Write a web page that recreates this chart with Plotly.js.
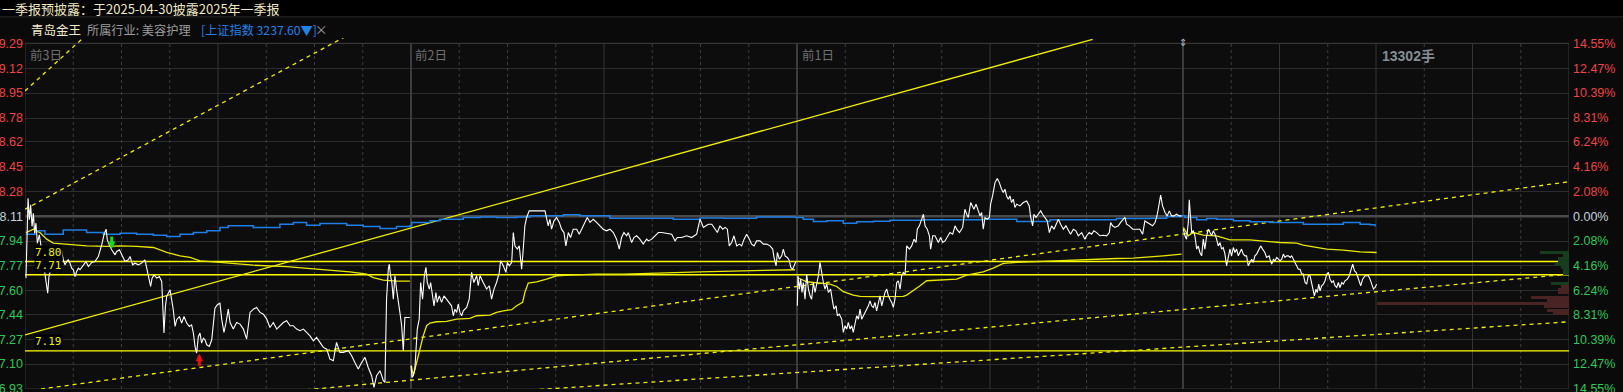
<!DOCTYPE html>
<html><head><meta charset="utf-8">
<script src="https://cdn.plot.ly/plotly-3.0.1.min.js"></script>
<style>html,body{margin:0;padding:0;background:#0a0a0a;overflow:hidden}#chart{width:1623px;height:392px}</style>
</head><body><div id="chart"></div>
<script>
// ---------------- DATA ----------------
const prevClose = 8.11;
const yTicks = [6.93,7.10,7.27,7.44,7.60,7.77,7.94,8.11,8.28,8.45,8.62,8.78,8.95,9.12,9.29];
const pctTicks = ['14.55%','12.47%','10.39%','8.31%','6.24%','4.16%','2.08%','0.00%','2.08%','4.16%','6.24%','8.31%','10.39%','12.47%','14.55%'];
const dayLabels = ['前3日','前2日','前1日'];
const dayStarts = [0,240,480,720];       // minute index where each session begins
const headerLine1 = '一季报预披露：于2025-04-30披露2025年一季报';
const stockName = '青岛金王';
const industry = '所属行业: 美容护理';
const indexTag = '[上证指数 3237.60▼]';
const maxVolLabel = '13302手';

// price line, [minute, price] per session
const day1 = [[0.6,7.687],[1.0,7.835],[1.9,8.232],[2.7,8.085],[3.5,8.187],[4.4,8.039],[5.2,8.130],[6.0,7.994],[6.8,8.062],[7.7,7.925],[8.9,7.982],[9.7,7.925],[11.4,7.789],[12.4,7.732],[13.5,7.630],[14.1,7.584],[14.9,7.698],[15.5,7.721],[16.6,7.778],[17.6,7.744],[18.7,7.755],[19.7,7.732],[20.7,7.744],[21.8,7.789],[22.8,7.869],[23.8,7.812],[24.9,7.778],[25.9,7.800],[26.9,7.812],[28.0,7.789],[29.0,7.755],[30.1,7.744],[31.1,7.698],[32.1,7.732],[33.2,7.755],[34.2,7.744],[36.3,7.778],[37.9,7.800],[39.4,7.766],[41.5,7.794],[43.5,7.800],[45.6,7.835],[47.7,7.914],[49.1,7.982],[50.4,8.021],[51.2,7.948],[52.4,7.914],[53.9,7.880],[56.0,7.846],[57.0,7.869],[58.7,7.880],[60.1,7.846],[62.2,7.800],[64.2,7.812],[65.3,7.835],[66.9,7.778],[68.4,7.789],[70.5,7.778],[72.5,7.789],[74.6,7.812],[76.1,7.732],[77.3,7.675],[78.1,7.630],[79.0,7.687],[80.2,7.709],[81.9,7.687],[83.5,7.698],[85.0,7.664],[85.6,7.539],[86.4,7.312],[87.3,7.494],[88.1,7.562],[89.1,7.584],[90.2,7.607],[91.2,7.539],[92.2,7.471],[93.3,7.357],[94.3,7.403],[96.0,7.425],[97.4,7.380],[98.9,7.425],[100.5,7.380],[102.2,7.357],[103.6,7.368],[104.7,7.312],[105.7,7.221],[106.7,7.175],[107.8,7.289],[108.8,7.312],[109.8,7.243],[110.9,7.277],[111.9,7.266],[113.0,7.232],[114.6,7.221],[116.1,7.266],[117.1,7.403],[118.1,7.482],[119.6,7.505],[121.2,7.516],[122.3,7.407],[123.7,7.316],[125.0,7.384],[126.4,7.475],[127.5,7.384],[129.5,7.339],[131.6,7.384],[133.7,7.373],[135.8,7.339],[137.8,7.271],[139.9,7.453],[142.0,7.475],[144.0,7.487],[146.1,7.453],[148.2,7.441],[150.3,7.407],[152.3,7.350],[154.4,7.384],[156.5,7.339],[158.5,7.362],[160.6,7.384],[162.7,7.396],[164.8,7.362],[166.8,7.362],[168.9,7.339],[171.0,7.328],[173.1,7.339],[175.1,7.316],[177.2,7.293],[179.3,7.259],[181.3,7.282],[183.4,7.248],[185.5,7.214],[187.6,7.202],[189.6,7.134],[191.7,7.123],[193.7,7.248],[195.8,7.180],[197.9,7.180],[201.0,7.191],[203.1,7.157],[205.1,7.111],[207.2,7.066],[209.3,7.111],[211.4,7.146],[213.4,7.077],[215.5,7.021],[217.0,6.941],[218.6,7.021],[220.7,7.055],[222.8,6.987],[223.8,6.975],[224.8,7.543],[225.9,7.748],[226.5,7.782],[227.3,7.703],[228.1,7.657],[229.0,7.543],[230.0,7.703],[231.0,7.612],[232.1,7.543],[233.1,7.453],[234.2,7.362],[235.2,7.191],[236.2,7.418],[239.3,7.418]];
const day2 = [[240.0,7.089],[240.6,7.009],[241.4,7.021],[242.4,7.066],[243.9,7.339],[245.1,7.407],[246.0,7.657],[247.2,7.543],[248.3,7.703],[249.3,7.760],[250.1,7.657],[251.4,7.612],[252.2,7.657],[253.4,7.543],[254.3,7.498],[255.5,7.589],[256.3,7.521],[257.6,7.566],[259.0,7.521],[260.5,7.566],[262.1,7.543],[263.8,7.521],[265.2,7.498],[266.3,7.430],[267.3,7.475],[268.4,7.453],[269.4,7.509],[270.4,7.453],[271.5,7.430],[272.5,7.464],[274.6,7.487],[276.2,7.543],[277.7,7.726],[279.1,7.657],[280.8,7.703],[281.8,7.635],[282.9,7.703],[284.9,7.657],[287.0,7.612],[288.7,7.635],[290.1,7.543],[291.6,7.612],[293.2,7.657],[294.9,7.726],[295.7,7.805],[297.4,7.771],[299.0,7.726],[299.9,7.794],[301.1,7.771],[302.6,7.794],[303.6,7.998],[304.6,7.907],[306.1,7.885],[307.3,7.907],[308.8,7.748],[309.8,7.885],[310.8,8.044],[311.9,8.101],[313.5,8.146],[323.3,8.146],[324.3,8.101],[325.3,8.044],[326.4,8.089],[327.4,8.021],[328.9,8.078],[330.5,8.101],[332.2,8.067],[333.6,8.021],[335.1,7.998],[336.3,7.907],[337.8,7.998],[339.2,7.964],[340.9,8.021],[343.0,8.021],[344.6,7.987],[346.1,8.021],[348.1,8.078],[349.6,8.101],[351.3,8.067],[353.3,8.089],[355.4,8.067],[357.5,8.044],[359.5,8.021],[361.6,8.010],[363.7,8.021],[365.8,7.998],[367.8,7.953],[369.5,7.885],[370.9,7.964],[372.4,7.998],[374.1,7.976],[375.1,7.998],[377.2,7.930],[378.6,7.964],[380.3,7.976],[382.3,7.953],[384.4,7.919],[386.5,7.953],[387.6,7.941],[389.7,7.953],[391.7,7.976],[393.8,7.998],[395.9,7.998],[399.0,7.994],[402.1,7.987],[404.2,7.941],[405.6,7.964],[408.3,7.964],[411.4,7.976],[414.5,7.964],[417.6,7.987],[419.7,8.089],[421.8,8.033],[423.4,8.044],[424.9,8.055],[427.0,8.055],[429.0,8.021],[430.5,7.998],[432.1,8.044],[433.8,8.021],[435.3,8.033],[436.7,8.021],[437.9,7.907],[439.4,7.930],[440.8,7.976],[442.5,7.907],[444.2,7.919],[445.6,7.907],[447.1,7.953],[448.7,7.987],[450.4,7.953],[451.8,7.919],[453.3,7.907],[454.9,7.941],[457.0,7.941],[459.1,7.919],[461.2,7.919],[463.2,7.907],[464.9,7.885],[465.7,7.828],[467.0,7.771],[467.8,7.862],[469.0,7.816],[470.5,7.839],[471.5,7.885],[472.6,7.839],[474.0,7.828],[475.3,7.805],[476.1,7.760],[477.3,7.748],[478.2,7.771],[479.4,7.805]];
const day3 = [[480.2,7.498],[480.6,7.703],[481.5,7.612],[482.3,7.680],[483.1,7.589],[483.9,7.657],[485.0,7.543],[486.0,7.714],[487.1,7.612],[488.1,7.566],[489.1,7.543],[490.2,7.657],[491.2,7.589],[492.2,7.646],[493.3,7.703],[494.3,7.794],[495.4,7.703],[496.4,7.657],[497.4,7.612],[498.5,7.646],[499.5,7.589],[500.9,7.612],[502.2,7.521],[503.0,7.475],[504.3,7.498],[505.1,7.430],[506.3,7.441],[507.8,7.407],[508.8,7.316],[509.9,7.362],[510.9,7.339],[511.9,7.384],[513.0,7.339],[514.0,7.362],[515.0,7.316],[516.1,7.384],[517.1,7.430],[518.2,7.407],[519.2,7.475],[520.2,7.407],[521.3,7.430],[522.3,7.453],[523.3,7.475],[524.4,7.498],[525.4,7.532],[526.4,7.498],[527.5,7.487],[528.5,7.521],[529.5,7.464],[530.6,7.521],[531.6,7.566],[532.7,7.498],[533.7,7.543],[534.7,7.589],[535.8,7.612],[536.8,7.566],[537.8,7.543],[538.9,7.521],[539.9,7.487],[540.9,7.543],[542.0,7.657],[543.0,7.669],[544.1,7.612],[545.1,7.703],[546.1,7.726],[547.2,7.714],[548.2,7.907],[549.9,7.885],[551.3,7.907],[552.8,7.953],[554.0,7.930],[554.8,8.021],[556.1,8.044],[557.5,8.089],[558.6,8.123],[559.6,8.044],[561.0,8.021],[562.3,7.976],[563.1,7.885],[564.4,7.976],[565.8,7.976],[566.9,7.953],[567.9,7.930],[569.3,7.964],[570.6,7.930],[572.0,7.941],[573.1,7.964],[574.1,7.976],[575.1,7.998],[576.8,7.987],[578.3,8.044],[579.3,8.021],[581.0,7.998],[583.0,8.033],[584.4,8.157],[585.5,8.123],[586.5,8.101],[588.0,8.203],[589.2,8.180],[590.0,8.157],[591.3,8.192],[592.7,8.146],[593.8,8.112],[594.8,8.135],[595.8,8.021],[596.9,8.101],[598.3,8.089],[599.6,8.101],[600.4,8.192],[601.6,8.248],[603.1,8.339],[604.5,8.367],[605.8,8.339],[607.2,8.294],[608.3,8.271],[609.3,8.294],[610.3,8.248],[611.4,8.226],[612.4,8.248],[613.4,8.203],[614.5,8.226],[615.5,8.169],[616.6,8.192],[618.6,8.180],[620.7,8.203],[622.8,8.214],[624.4,8.180],[625.3,8.101],[626.5,8.044],[627.3,8.123],[628.6,8.101],[630.0,8.123],[631.5,8.146],[632.7,8.123],[634.2,8.101],[635.6,8.078],[636.9,7.998],[638.3,8.044],[639.8,8.021],[641.0,8.055],[642.5,8.089],[643.9,8.055],[645.6,8.021],[647.2,8.044],[648.7,8.010],[650.1,7.987],[651.8,8.021],[653.4,8.010],[654.9,7.976],[657.0,7.998],[659.0,7.953],[660.1,7.976],[661.7,7.998],[663.2,7.987],[664.6,8.010],[666.3,7.998],[668.4,7.976],[670.4,7.980],[672.5,7.976],[674.2,7.998],[675.0,8.067],[676.2,8.044],[677.7,8.033],[679.8,8.044],[681.2,8.067],[682.9,8.089],[683.9,8.101],[684.9,8.055],[686.6,8.044],[688.7,8.021],[691.6,8.021],[693.2,8.021],[694.9,7.987],[696.3,8.078],[697.8,8.067],[699.5,8.055],[701.1,8.044],[702.6,8.067],[703.6,8.101],[704.6,8.157],[706.1,8.253],[707.3,8.180],[708.8,8.135],[710.2,8.112],[711.5,8.146],[712.9,8.112],[714.4,8.112],[716.0,8.123],[717.7,8.112],[719.1,8.112]];
const day4 = [[720.2,8.021],[721.2,7.976],[722.2,7.953],[723.3,8.067],[723.9,8.221],[724.7,8.112],[725.4,7.998],[726.4,8.010],[727.4,7.976],[728.5,7.885],[729.5,7.907],[730.5,7.862],[731.6,7.839],[732.6,7.953],[733.6,7.885],[734.7,7.976],[735.7,8.021],[736.8,7.998],[737.8,7.976],[738.8,8.010],[739.9,7.987],[740.9,7.953],[741.9,7.907],[743.0,7.930],[744.0,7.885],[745.0,7.896],[746.1,7.851],[747.1,7.771],[748.2,7.839],[749.2,7.885],[750.2,7.839],[751.3,7.896],[752.3,7.862],[753.3,7.885],[754.4,7.839],[755.4,7.862],[756.4,7.885],[757.5,7.851],[758.5,7.839],[759.5,7.839],[760.6,7.771],[761.6,7.794],[762.7,7.816],[763.7,7.794],[764.7,7.839],[765.8,7.851],[766.8,7.873],[768.3,7.907],[769.5,7.885],[770.9,7.862],[772.0,7.828],[773.6,7.839],[774.1,7.816],[775.2,7.782],[776.2,7.816],[777.2,7.805],[778.3,7.828],[779.3,7.816],[780.3,7.805],[781.4,7.816],[782.4,7.851],[783.4,7.828],[784.5,7.839],[785.5,7.839],[786.6,7.828],[787.6,7.839],[788.6,7.816],[789.7,7.794],[790.7,7.771],[791.7,7.748],[792.8,7.748],[793.8,7.714],[794.8,7.714],[795.9,7.657],[796.9,7.646],[797.9,7.703],[799.0,7.703],[800.0,7.657],[801.1,7.600],[801.7,7.566],[802.7,7.612],[803.5,7.589],[804.4,7.646],[805.2,7.600],[806.2,7.635],[807.3,7.646],[808.3,7.669],[809.4,7.714],[810.4,7.726],[811.4,7.680],[812.5,7.657],[813.5,7.669],[814.5,7.635],[815.6,7.623],[816.6,7.657],[817.6,7.623],[818.7,7.657],[819.7,7.646],[820.7,7.669],[822.2,7.680],[823.4,7.703],[824.3,7.737],[825.5,7.782],[826.6,7.737],[827.6,7.726],[828.4,7.703],[829.7,7.657],[830.5,7.635],[831.7,7.680],[833.2,7.703],[834.2,7.703],[835.3,7.703],[836.3,7.680],[837.3,7.646],[838.4,7.612],[839.4,7.623],[840.4,7.646]];

// average price line per session
const avg1 = [[0.6,7.998],[5.2,8.021],[9.3,7.998],[13.5,7.953],[17.6,7.926],[25.9,7.919],[38.3,7.907],[50.8,7.903],[59.1,7.907],[69.4,7.903],[79.8,7.896],[88.1,7.862],[96.4,7.839],[102.6,7.828],[108.8,7.805],[121.2,7.794],[142.0,7.775],[162.7,7.766],[183.4,7.748],[202.0,7.730],[212.4,7.714],[216.5,7.691],[222.8,7.673],[231.0,7.666],[239.3,7.666]];
const avg2 = [[240.2,7.089],[241.4,7.021],[243.5,7.111],[245.6,7.214],[247.6,7.293],[249.7,7.362],[251.8,7.380],[255.9,7.389],[262.1,7.391],[268.4,7.407],[276.6,7.412],[280.8,7.430],[289.1,7.434],[293.2,7.453],[297.4,7.464],[302.6,7.471],[305.7,7.498],[309.4,7.521],[310.8,7.589],[312.9,7.653],[318.1,7.662],[324.3,7.680],[330.5,7.703],[338.8,7.707],[355.4,7.714],[372.0,7.714],[403.1,7.726],[419.7,7.730],[440.0,7.735],[469.4,7.741],[478.8,7.744]];
const avg3 = [[480.2,7.691],[486.0,7.662],[494.3,7.653],[500.5,7.646],[504.7,7.630],[508.8,7.594],[515.0,7.571],[519.2,7.562],[527.5,7.560],[537.8,7.560],[546.1,7.562],[548.2,7.571],[552.3,7.600],[556.5,7.635],[560.6,7.669],[568.9,7.673],[579.3,7.680],[585.5,7.707],[595.8,7.730],[602.0,7.755],[608.3,7.787],[616.6,7.794],[629.0,7.800],[641.4,7.803],[658.0,7.809],[668.4,7.816],[678.7,7.821],[689.1,7.823],[699.5,7.830],[707.7,7.839],[719.1,7.851]];
const avg4 = [[720.2,8.033],[723.3,7.976],[726.4,7.998],[732.6,7.980],[740.9,7.976],[745.0,7.964],[749.2,7.948],[761.6,7.948],[774.1,7.935],[780.3,7.930],[790.7,7.926],[794.8,7.912],[801.1,7.900],[809.4,7.885],[819.7,7.878],[830.1,7.866],[840.4,7.862]];

// overlaid index (scaled to price)
const indexLine = [[0.6,7.987],[6.2,8.010],[12.4,7.987],[23.8,8.016],[38.3,7.998],[48.7,7.987],[59.1,7.994],[69.4,7.987],[79.8,7.980],[88.1,7.971],[96.4,7.987],[104.7,7.998],[113.0,8.010],[121.2,8.033],[126.4,8.044],[142.0,8.033],[158.5,8.055],[166.8,8.067],[175.1,8.048],[183.4,8.060],[200.0,8.048],[210.3,8.039],[220.7,8.025],[231.0,8.039],[239.3,8.044],[240.4,8.067],[251.8,8.078],[258.0,8.089],[272.5,8.101],[282.9,8.105],[293.2,8.101],[305.7,8.105],[314.0,8.112],[324.3,8.112],[334.7,8.119],[345.0,8.112],[355.4,8.112],[363.7,8.096],[376.1,8.096],[403.1,8.089],[419.7,8.098],[434.2,8.096],[454.9,8.105],[479.4,8.101],[483.9,8.089],[490.2,8.073],[498.5,8.078],[508.8,8.062],[517.1,8.071],[527.5,8.075],[537.8,8.082],[558.6,8.085],[579.3,8.085],[595.8,8.089],[616.6,8.073],[637.3,8.085],[658.0,8.085],[678.7,8.094],[699.5,8.096],[709.8,8.107],[719.1,8.112],[721.2,8.101],[728.5,8.085],[734.7,8.094],[740.9,8.089],[751.3,8.078],[761.6,8.071],[774.1,8.067],[794.8,8.055],[809.4,8.055],[819.7,8.067],[830.1,8.055],[836.3,8.051],[839.4,8.039]];

// horizontal price levels
const levelPrices = [7.80, 7.71, 7.19];

// trend lines: [startMinute, startPrice, endMinute, endPrice]
const solidTrend = [[0, 7.30, 663.8, 9.317]];
const dashedTrends = [[0, 8.965, 40, 9.365],[0, 8.157, 200, 9.341],[0, 6.915, 960, 8.345],[170, 6.92, 960, 7.714],[320, 6.927, 960, 7.389]];

// buy / sell signals
const signalT = [53.9, 108.4];
const signalP = [7.885, 7.171];
const signalSide = ['sell', 'buy'];

// volume-by-price profile (current session)
const pvPrice = [7.86,7.84,7.82,7.80,7.78,7.76,7.74,7.72,7.65,7.63,7.61,7.59,7.555,7.533,7.512,7.491,7.469,7.448];
const pvVol   = [2007,415,761,761,969,554,415,415,1246,554,761,761,2630,1522,13302,1730,1522,1107];
const pvSide  = ['b','b','b','b','b','b','b','b','b','s','s','s','s','s','s','s','s','s'];

// ---------------- LAYOUT HELPERS ----------------
const W = 1623, H = 392, PL = 25, PR = 1569, PT = 38, PB = 389;
const PW = PR - PL, PH = PB - PT;
const px = x => (x - PL) / PW;
const py = y => 1 - (y - PT) / PH;
const yLow = 6.93, yHigh = 9.29;
const pxPerUnit = (PB - 43.3) / (yHigh - yLow);
const yTop = yHigh + (43.3 - PT) / pxPerUnit;
const xMax = 960;

const RED = '#ec4646', GREEN = '#30c85a', NEUTRAL = '#c6d0da';
const colFor = v => Math.abs(v - prevClose) < 0.005 ? NEUTRAL : (v > prevClose ? RED : GREEN);

function series(arrs) {
  const x = [], y = [];
  arrs.forEach((a, i) => {
    if (i > 0) { x.push(null); y.push(null); }
    a.forEach(p => { x.push(p[0]); y.push(p[1]); });
  });
  return {x, y};
}

const traces = [];
// volume profile
traces.push({
  type: 'bar', orientation: 'h', x: pvVol, y: pvPrice, xaxis: 'x2', yaxis: 'y2',
  width: 0.021, marker: {color: pvSide.map(s => s === 'b' ? '#173c20' : '#4a2424'), line: {width: 0}},
  hoverinfo: 'skip'
});
// horizontal levels
levelPrices.forEach(v => traces.push({
  type: 'scatter', mode: 'lines', x: [0, xMax], y: [v, v],
  line: {color: '#ffff00', width: 1.4}, hoverinfo: 'skip'
}));
// trend lines
solidTrend.forEach(t => traces.push({
  type: 'scatter', mode: 'lines', x: [t[0], t[2]], y: [t[1], t[3]],
  line: {color: '#f0f000', width: 1.3}, hoverinfo: 'skip'
}));
dashedTrends.forEach(t => traces.push({
  type: 'scatter', mode: 'lines', x: [t[0], t[2]], y: [t[1], t[3]],
  line: {color: '#f0f000', width: 1.3, dash: '4px,4px'}, hoverinfo: 'skip'
}));
// average line
const av = series([avg1, avg2, avg3, avg4]);
traces.push({type: 'scatter', mode: 'lines', x: av.x, y: av.y, connectgaps: false,
  line: {color: '#e8e800', width: 1.3}, hoverinfo: 'skip'});
// index line
const ix = series([indexLine]);
traces.push({type: 'scatter', mode: 'lines', x: ix.x, y: ix.y,
  line: {color: '#1f7fe6', width: 1.5, shape: 'hv'}, hoverinfo: 'skip'});
// price line
const pr = series([day1, day2, day3, day4]);
traces.push({type: 'scatter', mode: 'lines', x: pr.x, y: pr.y, connectgaps: false,
  line: {color: '#ffffff', width: 1.1}, hoverinfo: 'skip'});

// ---------------- SHAPES ----------------
const shapes = [];
shapes.push({type: 'rect', xref: 'paper', yref: 'paper', x0: px(0), x1: px(W), y0: py(16.5), y1: py(0),
  fillcolor: '#000000', line: {width: 0}, layer: 'below'});
shapes.push({type: 'line', xref: 'paper', yref: 'paper', x0: px(0), x1: px(W), y0: py(16.8), y1: py(16.8),
  line: {color: '#262626', width: 1}});
shapes.push({type: 'rect', xref: 'paper', yref: 'y', x0: 0, x1: 1, y0: yHigh, y1: yTop,
  fillcolor: '#0a0a0a', line: {width: 0}, layer: 'between'});
// vertical time grid: every 30 min; solid at mid-session of past days and every hour today
for (let m = 30; m < xMax; m += 30) {
  if (dayStarts.includes(m)) continue;
  const today = m > dayStarts[3];
  const solid = today ? (m - dayStarts[3]) % 60 === 0 : (m % 240) === 120;
  shapes.push({type: 'line', xref: 'x', yref: 'y', x0: m, x1: m, y0: yLow, y1: yHigh, layer: 'between',
    line: solid ? {color: '#343434', width: 1} : {color: '#3e3e3e', width: 1, dash: 'dot'}});
}
shapes.push({type: 'line', xref: 'x', yref: 'y', x0: 0, x1: xMax, y0: prevClose, y1: prevClose,
  line: {color: '#4a4a4a', width: 2.5}, layer: 'between'});
dayStarts.slice(1).forEach(d => shapes.push({type: 'line', xref: 'x', yref: 'y', x0: d, x1: d, y0: yLow, y1: yHigh,
  line: {color: '#3c3c3c', width: 2}, layer: 'between'}));
shapes.push({type: 'rect', xref: 'x', yref: 'y', x0: 0, x1: xMax, y0: yLow, y1: yHigh,
  line: {color: '#3a3a3a', width: 1}, fillcolor: 'rgba(0,0,0,0)', layer: 'between'});

// ---------------- ANNOTATIONS ----------------
const cjk = '"Noto Sans CJK SC", "Noto Sans", sans-serif';
const ann = [];
const txt = (text, x, y, color, size, extra) => ann.push(Object.assign({
  text, xref: 'paper', yref: 'paper', x: px(x), y: py(y), xanchor: 'left', yanchor: 'middle',
  showarrow: false, font: {family: cjk, size, color}
}, extra || {}));
txt(headerLine1, 0, 8.5, '#efe8c4', 13);
txt(stockName, 29, 30, '#f2eccc', 12.5);
txt(industry, 85, 30, '#9c9c9c', 12.2);
txt(indexTag, 199, 30, '#2283e6', 12.2);
txt('×', 313, 30, '#9c9c9c', 12.5);
const dayLabelX = [28, 413, 800];
dayLabels.forEach((l, i) => txt(l, dayLabelX[i], 54, '#707070', 12.5));
txt(maxVolLabel, 1380, 56, '#8a9099', 13, {font: {family: 'Arial, "Noto Sans CJK SC"', size: 14, color: '#878d95', weight: 'bold'}});
ann.push({text: '⇕', xref: 'x', yref: 'paper', x: dayStarts[3], y: py(43), xanchor: 'center', yanchor: 'middle',
  showarrow: false, font: {family: 'DejaVu Sans', size: 10, color: '#b8b8b8'}});
levelPrices.forEach(v => ann.push({
  text: v.toFixed(2), xref: 'paper', yref: 'y', x: px(34), y: v, xanchor: 'left', yanchor: 'bottom', yshift: 2,
  showarrow: false, bgcolor: '#000000', borderpad: 0,
  font: {family: '"DejaVu Sans Mono", monospace', size: 11, color: '#f0f000'}
}));
signalT.forEach((t, i) => ann.push({
  x: t, y: signalP[i], xref: 'x', yref: 'y', text: '', showarrow: true,
  ax: 0, ay: signalSide[i] === 'sell' ? -14 : 14, arrowhead: 2, arrowsize: 0.5, arrowwidth: 3,
  arrowcolor: signalSide[i] === 'sell' ? '#18d818' : '#e81010', standoff: 0, startstandoff: 0
}));

// ---------------- LAYOUT ----------------
const tickFont = {family: 'Arial, "Liberation Sans", sans-serif', size: 12.5, color: '#cccccc'};
const layout = {
  width: W, height: H,
  margin: {l: PL, r: W - PR, t: PT, b: H - PB, pad: 0},
  paper_bgcolor: '#0a0a0a', plot_bgcolor: '#0d0d0d',
  showlegend: false, bargap: 0,
  xaxis: {range: [0, xMax], showticklabels: false, ticks: '', zeroline: false, showline: false, showgrid: false},
  xaxis2: {overlaying: 'x', range: [13302 * PW / 192.3, 0], visible: false},
  yaxis: {
    range: [yLow, yTop], tickmode: 'array', tickvals: yTicks,
    ticktext: yTicks.map(v => `<span style="color:${colFor(v)}">${v.toFixed(2)}</span>`),
    showgrid: true, gridcolor: '#2c2c2c', gridwidth: 1, zeroline: false, showline: false, ticks: '',
    tickfont: tickFont, ticklabelstandoff: 1, ticklabeloverflow: 'allow'
  },
  yaxis2: {
    overlaying: 'y', side: 'right', range: [yLow, yTop], tickmode: 'array', tickvals: yTicks,
    ticktext: yTicks.map((v, i) => `<span style="color:${colFor(v)}">${pctTicks[i]}</span>`),
    showgrid: false, zeroline: false, showline: false, ticks: '', tickfont: tickFont, ticklabelstandoff: 3,
    ticklabeloverflow: 'allow'
  },
  shapes, annotations: ann
};

Plotly.newPlot('chart', traces, layout, {displayModeBar: false, staticPlot: true});
</script></body></html>
